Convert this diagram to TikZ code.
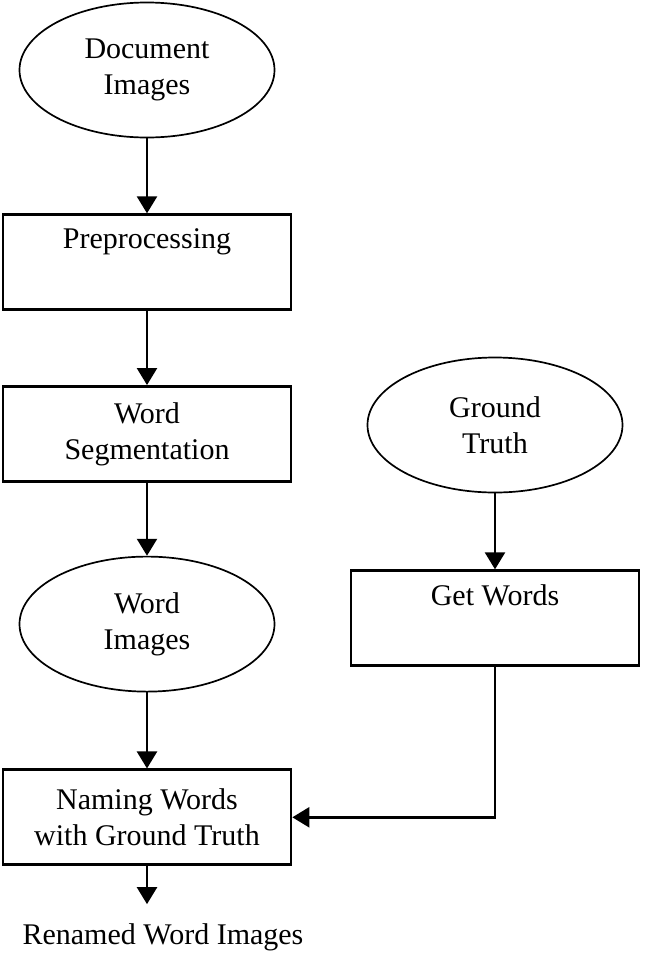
\documentclass[tikz,border=0pt]{standalone}
\usepackage{fontspec}
\setmainfont{Liberation Serif}
\usetikzlibrary{arrows.meta,positioning,shapes.geometric}

\begin{document}
\begin{tikzpicture}[
  x=1pt, y=-1pt,
  font=\fontsize{30}{36}\selectfont,
  >={Triangle[width=20pt,length=17pt]},
  block/.style={draw, line width=2.7pt, align=center, minimum width=288pt, minimum height=95pt, inner sep=0pt},
  oval/.style={draw, ellipse, line width=1.7pt, align=center, minimum width=255pt, minimum height=135pt, inner sep=0pt},
  flow/.style={->, line width=2.4pt}
]
\useasboundingbox (0,0) rectangle (650,954);

% left column
\node[oval] (docs) at (147,70) {Document\\Images};
\node[block, below=75pt of docs] (prep) {Preprocessing\\\strut};
\node[block, below=74pt of prep] (seg) {Word\\Segmentation};
\node[oval, below=73pt of seg] (wimg) {Word\\Images};
\node[block, below=76pt of wimg] (name) {Naming Words\\with Ground Truth};
\node[inner sep=0pt, below=57pt of name, xshift=16pt] (out) {Renamed Word Images};

% right column
\node[oval] (truth) at (495,425) {Ground\\Truth};
\node[block, below=76pt of truth] (words) {Get Words\\\strut};

\draw[flow] (docs) -- (prep);
\draw[flow] (prep) -- (seg);
\draw[flow] (seg) -- (wimg);
\draw[flow] (wimg) -- (name);
\draw[flow, shorten >=19pt] (name.south) -- (name.south |- out.north);
\draw[flow] (truth) -- (words);
\draw[flow] (words.south) |- (name.east);

\end{tikzpicture}
\end{document}
